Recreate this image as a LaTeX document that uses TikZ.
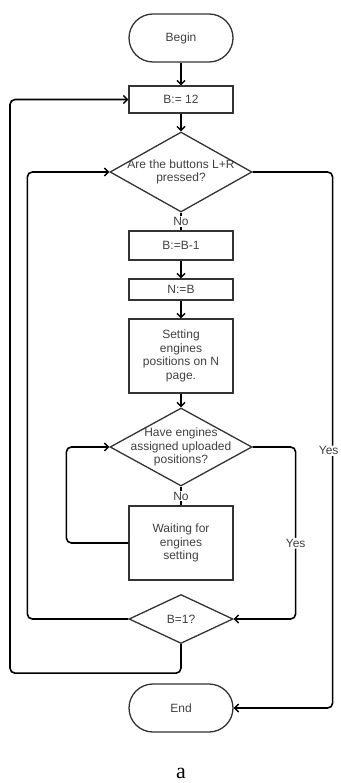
\documentclass[tikz,border=0pt]{standalone}
\usepackage{fontspec}
\setmainfont{Liberation Sans}
\newfontfamily\captionfont{Liberation Serif}
\usepackage{xcolor}
\definecolor{boxtext}{HTML}{404040}
\definecolor{boxline}{HTML}{333333}
\usetikzlibrary{
    arrows.meta,
    shapes.geometric
}

\tikzset{
    terminal/.style={draw=boxline, line width=1.3pt, rectangle, rounded corners=24pt,
        minimum width=104pt, minimum height=48pt, inner sep=0pt,
        text=boxtext, font=\fontsize{12}{13.7}\selectfont},
    procbox/.style={draw=boxline, line width=1.3pt, rectangle,
        minimum width=104pt, inner sep=0pt, align=center,
        text=boxtext, font=\fontsize{12}{13.7}\selectfont},
    decision/.style={draw=boxline, line width=1.3pt, diamond, inner sep=0pt},
    dtext/.style={align=center, text=boxtext, font=\fontsize{12}{13.7}\selectfont},
    flow/.style={line width=1.6pt, rounded corners=5pt,
        -{Straight Barb[length=4pt, width=8pt, line width=1.4pt]}},
    plainline/.style={line width=1.2pt},
    lbl/.style={fill=white, inner sep=1pt, text=boxtext,
        font=\fontsize{12}{13.7}\selectfont}
}

\begin{document}
\begin{tikzpicture}[x=1pt, y=-1pt]
    \useasboundingbox (0,0) rectangle (340,783);

    % Main column of steps
    \node[terminal] (begin) at (181,38) {Begin};
    \node[procbox, minimum height=27pt] (bset) at (181,99.5) {B:= 12};
    \node[decision, minimum width=142pt, minimum height=80pt] (buttons) at (181,172) {};
    \node[dtext] at (buttons.center) {Are the buttons L+R\\pressed?};
    \node[procbox, minimum height=29pt] (bdec) at (181,245.5) {B:=B-1};
    \node[procbox, minimum height=21pt] (nset) at (181,289.5) {N:=B};
    \node[procbox, minimum height=74pt] (setpos) at (181,356) {Setting\\engines\\positions on N\\page.};
    \node[decision, minimum width=142pt, minimum height=78pt] (assigned) at (181,447) {};
    \node[dtext] at (assigned.center) {Have engines\\assigned uploaded\\positions?};
    \node[procbox, minimum height=74pt] (waiting) at (181,543) {Waiting for\\engines\\setting};
    \node[decision, minimum width=104pt, minimum height=49pt] (lastpage) at (181,619) {};
    \node[dtext] at (lastpage.center) {B=1?};
    \node[terminal] (end) at (181,708) {End};

    % Caption
    \node[font=\captionfont\fontsize{22}{24}\selectfont] (caption) at (181,773) {a};

    % Straight connectors
    \draw[flow] (begin) -- (bset);
    \draw[flow] (bset) -- (buttons);
    \draw[plainline] (buttons) -- node[lbl] {No} (bdec);
    \draw[flow] (bdec) -- (nset);
    \draw[flow] (nset) -- (setpos);
    \draw[flow] (setpos) -- (assigned);
    \draw[plainline] (assigned) -- node[lbl] {No} (waiting);

    % Loops
    \draw[flow] (waiting.west) -- ++(-62,0) |- (assigned.west);
    \draw[flow] (assigned.east) -- ++(43,0) |- node[lbl, pos=0.28] {Yes} (lastpage.east);
    \draw[flow] (lastpage.west) -- ++(-101,0) |- (buttons.west);
    \draw[flow] (lastpage.south) -- ++(0,29) -- ++(-171,0) |- (bset.west);
    \draw[flow] (buttons.east) -- ++(80,0) |- node[lbl, pos=0.26, xshift=-4pt] {Yes} (end.east);
\end{tikzpicture}
\end{document}
